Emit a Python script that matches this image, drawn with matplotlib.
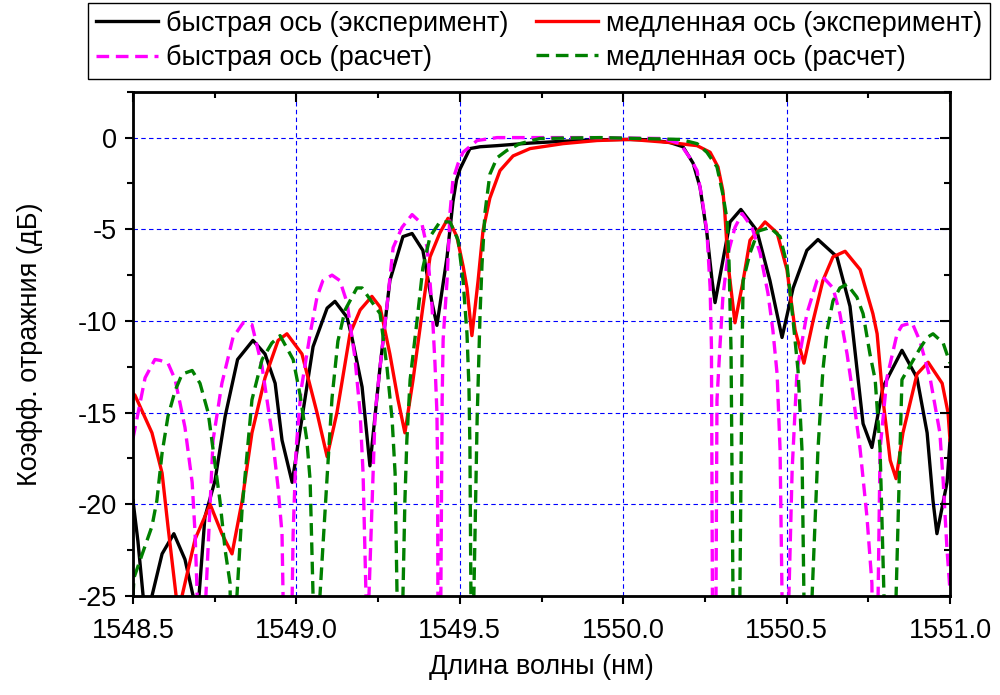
import matplotlib
matplotlib.use('Agg')
import matplotlib.pyplot as plt
from matplotlib.ticker import MultipleLocator, FormatStrFormatter

plt.rcParams['font.family'] = ['Liberation Sans', 'DejaVu Sans']
plt.rcParams['axes.unicode_minus'] = False

# быстрая ось (эксперимент)
fast_exp_x = [1548.500, 1548.515, 1548.531, 1548.545, 1548.558, 1548.589, 1548.625, 1548.659, 1548.684, 1548.693,
              1548.702, 1548.720, 1548.751, 1548.782, 1548.820, 1548.867, 1548.904, 1548.935, 1548.956, 1548.987,
              1549.011, 1549.051, 1549.094, 1549.118, 1549.155, 1549.170, 1549.201, 1549.225, 1549.256, 1549.286,
              1549.326, 1549.354, 1549.387, 1549.415, 1549.430, 1549.461, 1549.479, 1549.490, 1549.501, 1549.531,
              1549.562, 1549.614, 1549.715, 1549.816, 1549.920, 1549.999, 1550.082, 1550.143, 1550.183, 1550.214,
              1550.235, 1550.256, 1550.272, 1550.281, 1550.305, 1550.327, 1550.360, 1550.409, 1550.449, 1550.486,
              1550.520, 1550.562, 1550.596, 1550.654, 1550.694, 1550.734, 1550.761, 1550.795, 1550.853, 1550.899,
              1550.930, 1550.948, 1550.960, 1550.991, 1551.000]
fast_exp_y = [-19.8, -22.0, -25.0, -27.0, -25.0, -22.7, -21.6, -23.0, -25.0, -27.0,
              -25.0, -20.7, -18.7, -15.2, -12.1, -11.06, -11.8, -13.4, -16.5, -18.8,
              -16.0, -11.4, -9.3, -8.93, -9.8, -10.9, -13.6, -17.9, -12.5, -7.8,
              -5.4, -5.23, -6.15, -9.0, -10.24, -6.5, -3.5, -2.3, -1.7, -0.6,
              -0.5, -0.44, -0.3, -0.2, -0.12, -0.1, -0.12, -0.27, -0.5, -1.4,
              -2.7, -5.2, -7.8, -9.0, -6.7, -4.6, -3.92, -5.07, -7.8, -10.9,
              -8.2, -6.15, -5.56, -6.5, -9.2, -15.6, -16.9, -13.6, -11.6, -13.1,
              -16.1, -19.8, -21.6, -18.8, -16.5]

# медленная ось (эксперимент)
slow_exp_x = [1548.500, 1548.506, 1548.558, 1548.589, 1548.607, 1548.632, 1548.641, 1548.650, 1548.690, 1548.736,
              1548.772, 1548.803, 1548.834, 1548.864, 1548.904, 1548.944, 1548.971, 1549.017, 1549.063, 1549.094,
              1549.124, 1549.164, 1549.195, 1549.231, 1549.256, 1549.286, 1549.311, 1549.332, 1549.357, 1549.387,
              1549.409, 1549.439, 1549.464, 1549.491, 1549.510, 1549.522, 1549.537, 1549.556, 1549.571, 1549.592,
              1549.623, 1549.663, 1549.715, 1549.816, 1549.920, 1550.021, 1550.143, 1550.226, 1550.266, 1550.290,
              1550.305, 1550.311, 1550.321, 1550.342, 1550.367, 1550.388, 1550.434, 1550.471, 1550.501, 1550.526,
              1550.553, 1550.581, 1550.611, 1550.642, 1550.679, 1550.725, 1550.764, 1550.777, 1550.795, 1550.817,
              1550.835, 1550.856, 1550.899, 1550.933, 1550.976, 1550.994, 1551.000]
slow_exp_y = [-13.95, -14.05, -16.1, -18.3, -21.2, -25.0, -26.5, -25.0, -21.9, -20.0,
              -21.6, -22.7, -19.8, -16.1, -13.1, -11.06, -10.7, -11.8, -15.0, -17.4,
              -15.0, -10.7, -9.4, -8.66, -9.24, -11.8, -14.3, -16.1, -13.2, -9.24,
              -6.5, -5.2, -4.4, -5.4, -7.0, -8.2, -10.8, -7.8, -5.07, -3.3,
              -1.8, -1.0, -0.6, -0.33, -0.16, -0.1, -0.27, -0.44, -0.8, -1.6,
              -2.9, -4.1, -6.9, -10.1, -7.8, -5.6, -4.6, -5.2, -7.2, -10.5,
              -12.3, -10.0, -7.8, -6.5, -6.2, -7.2, -9.6, -10.7, -14.3, -17.6,
              -18.6, -16.1, -12.9, -12.25, -13.4, -15.0, -16.5]

# быстрая ось (расчет)
fast_calc_x = [1548.500, 1548.537, 1548.567, 1548.583, 1548.607, 1548.629, 1548.659, 1548.681, 1548.690, 1548.696,
               1548.708, 1548.723, 1548.745, 1548.772, 1548.806, 1548.837, 1548.864, 1548.895, 1548.925, 1548.944,
               1548.956, 1548.959, 1548.974, 1548.990, 1548.999, 1549.014, 1549.042, 1549.063, 1549.081, 1549.109,
               1549.133, 1549.155, 1549.179, 1549.195, 1549.204, 1549.213, 1549.218, 1549.222, 1549.241, 1549.256,
               1549.277, 1549.296, 1549.323, 1549.354, 1549.384, 1549.400, 1549.415, 1549.424, 1549.430, 1549.432,
               1549.433, 1549.437, 1549.442, 1549.446, 1549.449, 1549.461, 1549.470, 1549.479, 1549.495, 1549.510,
               1549.553, 1549.614, 1549.900, 1550.122, 1550.174, 1550.204, 1550.226, 1550.241, 1550.256, 1550.266,
               1550.270, 1550.273, 1550.278, 1550.284, 1550.287, 1550.296, 1550.305, 1550.321, 1550.342, 1550.364,
               1550.394, 1550.419, 1550.443, 1550.458, 1550.471, 1550.480, 1550.486, 1550.495, 1550.507, 1550.517,
               1550.532, 1550.562, 1550.593, 1550.611, 1550.642, 1550.663, 1550.685, 1550.703, 1550.725, 1550.746,
               1550.761, 1550.771, 1550.780, 1550.786, 1550.807, 1550.838, 1550.853, 1550.884, 1550.908, 1550.939,
               1550.969, 1550.979, 1550.991, 1551.000]
fast_calc_y = [-16.4, -13.1, -12.1, -12.15, -12.3, -13.2, -15.8, -18.8, -21.6, -24.7,
               -40.0, -25.0, -16.5, -13.4, -10.9, -10.1, -10.2, -12.5, -16.1, -19.1,
               -21.6, -24.8, -40.0, -21.6, -17.0, -13.8, -10.7, -8.7, -7.8, -7.5,
               -7.8, -9.0, -12.0, -15.0, -18.3, -25.0, -40.0, -25.0, -15.0, -12.5,
               -9.2, -6.0, -4.9, -4.2, -4.7, -6.0, -9.2, -12.3, -15.0, -18.1,
               -25.0, -40.0, -25.0, -14.3, -11.0, -7.8, -4.1, -2.3, -1.4, -0.8,
               -0.16, 0.0, 0.0, -0.05, -0.33, -1.1, -1.8, -3.3, -5.1, -8.2,
               -11.4, -25.0, -40.0, -25.0, -14.3, -11.4, -8.7, -6.3, -4.9, -4.14,
               -4.9, -6.3, -8.5, -10.5, -12.9, -17.0, -25.0, -40.0, -25.0, -18.1,
               -12.7, -9.6, -7.8, -7.6, -8.2, -9.6, -11.8, -14.0, -17.0, -20.7,
               -24.3, -40.0, -25.0, -17.0, -13.1, -10.7, -10.25, -10.1, -11.1, -13.1,
               -16.1, -18.7, -22.5, -24.7]

# медленная ось (расчет)
slow_calc_x = [1548.500, 1548.503, 1548.558, 1548.573, 1548.589, 1548.607, 1548.629, 1548.650, 1548.681, 1548.705,
               1548.730, 1548.745, 1548.766, 1548.782, 1548.797, 1548.806, 1548.818, 1548.834, 1548.864, 1548.895,
               1548.925, 1548.950, 1548.990, 1549.011, 1549.032, 1549.042, 1549.051, 1549.060, 1549.072, 1549.094,
               1549.109, 1549.127, 1549.149, 1549.185, 1549.201, 1549.256, 1549.277, 1549.293, 1549.302, 1549.308,
               1549.317, 1549.326, 1549.332, 1549.338, 1549.348, 1549.369, 1549.387, 1549.409, 1549.439, 1549.470,
               1549.495, 1549.510, 1549.522, 1549.528, 1549.531, 1549.534, 1549.539, 1549.543, 1549.553, 1549.562,
               1549.568, 1549.577, 1549.592, 1549.614, 1549.644, 1549.684, 1549.745, 1549.929, 1550.174, 1550.226,
               1550.256, 1550.287, 1550.305, 1550.318, 1550.324, 1550.330, 1550.336, 1550.348, 1550.357, 1550.364,
               1550.367, 1550.388, 1550.413, 1550.449, 1550.480, 1550.501, 1550.520, 1550.535, 1550.547, 1550.553,
               1550.566, 1550.578, 1550.596, 1550.611, 1550.624, 1550.642, 1550.663, 1550.685, 1550.715, 1550.734,
               1550.755, 1550.771, 1550.786, 1550.798, 1550.817, 1550.835, 1550.847, 1550.853, 1550.908, 1550.930,
               1550.948, 1550.979, 1551.000]
slow_calc_y = [-25.0, -24.0, -21.2, -19.8, -17.2, -15.2, -13.8, -12.9, -12.7, -13.4,
               -15.0, -17.0, -19.8, -22.5, -24.3, -40.0, -25.0, -20.2, -14.3, -12.1,
               -11.2, -10.8, -12.1, -14.0, -16.5, -18.7, -25.0, -40.0, -25.0, -18.5,
               -14.2, -11.1, -9.4, -8.2, -8.2, -9.6, -12.5, -15.4, -18.3, -25.0,
               -40.0, -25.0, -19.8, -16.5, -13.2, -10.0, -7.1, -5.4, -4.6, -4.6,
               -5.6, -7.8, -10.7, -13.6, -16.9, -25.0, -40.0, -25.0, -15.4, -9.6,
               -6.9, -4.1, -2.0, -1.1, -0.7, -0.33, -0.05, 0.0, -0.1, -0.33,
               -0.8, -1.6, -3.1, -4.5, -6.9, -11.6, -25.0, -40.0, -25.0, -11.4,
               -7.8, -6.3, -5.1, -4.9, -5.4, -6.9, -10.0, -12.7, -17.0, -25.0,
               -40.0, -25.0, -17.0, -12.7, -10.5, -8.9, -8.2, -8.0, -8.7, -9.6,
               -11.8, -13.2, -17.0, -25.0, -40.0, -25.0, -17.0, -13.2, -11.5, -10.9,
               -10.7, -11.2, -12.3]

labels = ['быстрая ось (эксперимент)', 'медленная ось (эксперимент)',
          'быстрая ось (расчет)', 'медленная ось (расчет)']

fs = 19.5
fig = plt.figure(figsize=(10, 6.95), dpi=100)
ax = fig.add_axes([0.133, 0.1424, 0.817, 0.7256])

dash = (0, (3.8, 2.0))
kw = dict(lw=2.4, solid_joinstyle='round', dash_joinstyle='round')
l1, = ax.plot(fast_exp_x, fast_exp_y, color='black', label=labels[0], **kw)
l2, = ax.plot(slow_exp_x, slow_exp_y, color='red', label=labels[1], **kw)
l3, = ax.plot(fast_calc_x, fast_calc_y, color='magenta', ls=dash, label=labels[2], **kw)
l4, = ax.plot(slow_calc_x, slow_calc_y, color='green', ls=dash, label=labels[3], **kw)

ax.set_xlim(1548.5, 1551.0)
ax.set_ylim(-25, 2.5)
ax.xaxis.set_major_locator(MultipleLocator(0.5))
ax.xaxis.set_minor_locator(MultipleLocator(0.25))
ax.yaxis.set_major_locator(MultipleLocator(5))
ax.yaxis.set_minor_locator(MultipleLocator(2.5))
ax.xaxis.set_major_formatter(FormatStrFormatter('%.1f'))
ax.yaxis.set_major_formatter(FormatStrFormatter('%d'))
ax.grid(which='major', color='blue', lw=0.8, ls=(0, (4, 3)))
ax.set_axisbelow(True)
ax.tick_params(which='both', direction='out', width=1.5, labelsize=fs)
ax.tick_params(which='major', length=6)
ax.tick_params(which='minor', length=4)
ax.tick_params(axis='x', which='major', pad=10)
ax.tick_params(axis='y', which='major', pad=5.5)
for s in ax.spines.values():
    s.set_linewidth(2)

# верхние и правые засечки внутрь
axt = ax.twiny()
axt.set_xlim(ax.get_xlim())
axt.xaxis.set_major_locator(MultipleLocator(0.5))
axt.xaxis.set_minor_locator(MultipleLocator(0.25))
axt.tick_params(which='both', direction='in', width=1.5, labeltop=False)
axt.tick_params(which='major', length=7)
axt.tick_params(which='minor', length=4)
axr = ax.twinx()
axr.set_ylim(ax.get_ylim())
axr.yaxis.set_major_locator(MultipleLocator(5))
axr.yaxis.set_minor_locator(MultipleLocator(2.5))
axr.tick_params(which='both', direction='in', width=1.5, labelright=False)
axr.tick_params(which='major', length=7)
axr.tick_params(which='minor', length=4)

ax.set_xlabel('Длина волны (нм)', fontsize=fs, labelpad=7)
ax.set_ylabel('Коэфф. отражния (дБ)', fontsize=fs, labelpad=25)

leg = fig.legend([l1, l3, l2, l4], [labels[0], labels[2], labels[1], labels[3]],
                 loc='upper left', bbox_to_anchor=(0.088, 0.996, 0.902, 0), mode='expand',
                 ncol=2, fontsize=fs, handlelength=2.3, handletextpad=0.3,
                 borderpad=0.28, labelspacing=0.3, columnspacing=0.3,
                 fancybox=False, framealpha=1, edgecolor='black', borderaxespad=0)
leg.get_frame().set_linewidth(1.0)

fig.savefig('out.png', dpi=100)
